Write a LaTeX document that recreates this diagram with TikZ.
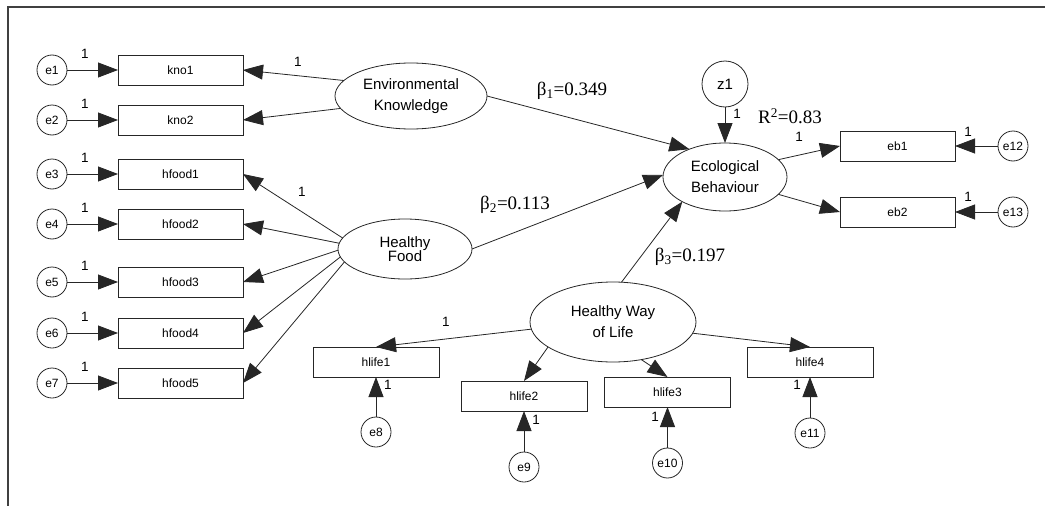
\documentclass[tikz,border=0pt]{standalone}
\usepackage{fontspec}
\setmainfont{Liberation Sans}
\newfontfamily\serifnum{Liberation Serif}
\usetikzlibrary{arrows.meta,shapes.geometric,calc}
\begin{document}
\begin{tikzpicture}[x=1pt,y=-1pt,
  every node/.style={inner sep=0pt, outer sep=0pt},
  obs/.style={draw=black!85, line width=0.8pt, rectangle, minimum width=125pt, minimum height=30pt, font=\fontsize{12}{14}\selectfont},
  obsw/.style={obs, minimum width=126pt},
  err/.style={draw=black!85, circle, line width=0.8pt, minimum size=30pt, font=\fontsize{12}{14}\selectfont},
  lat/.style={draw=black!85, ellipse, line width=0.8pt, align=center, font=\fontsize{15}{21}\selectfont},
  arr/.style={draw=black!85, line width=0.8pt, -{Triangle[length=20pt,width=15pt]}},
  lab1/.style={font=\fontsize{13.5}{14}\selectfont},
  coef/.style={font=\serifnum\fontsize{19}{22}\selectfont},
]
\useasboundingbox (0,0) rectangle (1045,506);
\draw[line width=1.2pt, black!75] (1045,7) -- (8,7) -- (8,506);

% left indicators
\foreach \n/\y/\t in {e1/70/kno1, e2/120/kno2, e3/174/hfood1, e4/224/hfood2, e5/282/hfood3, e6/333/hfood4, e7/383/hfood5}{
  \node[err] (\n) at (52,\y) {\n};
  \node[obs] (\t) at (180.5,\y) {\t};
  \draw[arr] (\n) -- (\t);
  \node[lab1] (l\n) at (85,\y-16) {1};
}

% latent variables
\node[lat, minimum width=152pt, minimum height=66pt] (EK) at (411,96) {Environmental\\Knowledge};
\node[lat, minimum width=134pt, minimum height=60pt, font=\fontsize{15}{11}\selectfont] (HF) at (405,249) {Healthy\\[-1.5pt]Food};
\node[lat, minimum width=124pt, minimum height=68pt] (EB) at (725,177) {Ecological\\Behaviour};
\node[lat, minimum width=166pt, minimum height=80pt] (HWL) at (613,322) {Healthy Way\\of Life};
\node[err, minimum size=46pt, font=\fontsize{15}{17}\selectfont] (z1) at (725,84) {z1};

% EB indicators
\node[obs, minimum width=115pt] (eb1) at (897.5,146) {eb1};
\node[obs, minimum width=115pt] (eb2) at (897.5,212) {eb2};
\node[err] (e12) at (1013,146) {e12};
\node[err] (e13) at (1013,212) {e13};

% HWL indicators
\node[obsw] (hlife1) at (376,362) {hlife1};
\node[obsw] (hlife2) at (524,396) {hlife2};
\node[obsw] (hlife3) at (667.5,392) {hlife3};
\node[obsw] (hlife4) at (810,362) {hlife4};
\node[err] (e8) at (376,432) {e8};
\node[err] (e9) at (524,467) {e9};
\node[err] (e10) at (667.5,463) {e10};
\node[err] (e11) at (810,433) {e11};

% loadings
\draw[arr] (EK.167) -- (kno1.east);
\draw[arr] (EK.190) -- (kno2.east);
\draw[arr] (HF.170) -- (hfood1.east);
\draw[arr] (HF.175) -- (hfood2.east);
\draw[arr] (HF.181) -- (hfood3.east);
\draw[arr] (HF.187) -- (hfood4.east);
\draw[arr] (HF.192) -- (hfood5.east);
\draw[arr] (EB.18) -- (eb1.west);
\draw[arr] (EB.-18) -- (eb2.west);
\draw[arr] (e12) -- (eb1);
\draw[arr] (e13) -- (eb2);
\draw[arr] (HWL.185) -- (hlife1.north);
\draw[arr] (HWL.201) -- (hlife2.north);
\draw[arr] (HWL.-53) -- (hlife3.north);
\draw[arr] (HWL.-8) -- (hlife4.north);
\draw[arr] (e8) -- (hlife1);
\draw[arr] (e9) -- (hlife2);
\draw[arr] (e10) -- (hlife3);
\draw[arr] (e11) -- (hlife4);

% structural paths
\draw[arr] (EK.east) -- (EB.142);
\draw[arr] (HF.east) -- (EB.178);
\draw[arr] (HWL.78) -- (EB.210);
\draw[arr] (z1) -- (EB);

% labels
\node[lab1] (lEK) at (298,62) {1};
\node[lab1] (lHF) at (302,192) {1};
\node[lab1] (lz1) at (737,114) {1};
\node[lab1] (leb1) at (799,137) {1};
\node[lab1] (le12) at (968,132) {1};
\node[lab1] (le13) at (968,197) {1};
\node[lab1] (lhl1) at (446,322) {1};
\node[lab1] (le8) at (388,385) {1};
\node[lab1] (le9) at (536,420) {1};
\node[lab1] (le10) at (655,417) {1};
\node[lab1] (le11) at (797,385) {1};

\node[coef] (b1) at (572,91) {β\textsubscript{1}=0.349};
\node[coef] (b2) at (515,205) {β\textsubscript{2}=0.113};
\node[coef] (b3) at (690,257) {β\textsubscript{3}=0.197};
\node[coef] (r2) at (790,116) {R\textsuperscript{2}=0.83};
\end{tikzpicture}
\end{document}
